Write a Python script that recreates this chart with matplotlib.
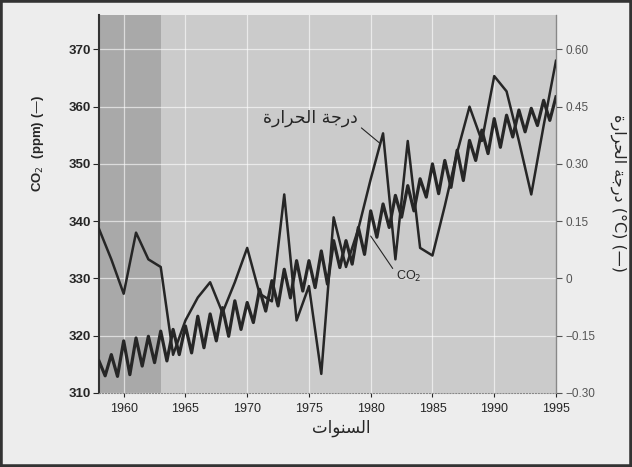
import numpy as np
import matplotlib.pyplot as plt
from matplotlib.patches import Rectangle

# CO2 seasonal curve (ppm), one peak and one trough per year, 1958.0 .. 1995.0
co2_years = np.arange(1958.0, 1995.01, 0.5)
co2_ppm = [
    315.6, 313.0,  # 1958
    316.7, 312.9,  # 1959
    319.1, 313.2,  # 1960
    319.6, 314.7,  # 1961
    319.9, 315.3,  # 1962
    320.8, 315.6,  # 1963
    321.1, 316.7,  # 1964
    321.7, 317.0,  # 1965
    323.4, 317.9,  # 1966
    323.8, 319.1,  # 1967
    324.9, 319.9,  # 1968
    326.1, 321.1,  # 1969
    325.8, 322.3,  # 1970
    328.1, 324.3,  # 1971
    329.6, 325.2,  # 1972
    331.6, 326.6,  # 1973
    333.1, 327.8,  # 1974
    333.1, 328.4,  # 1975
    334.8, 329.0,  # 1976
    336.6, 331.9,  # 1977
    336.6, 332.5,  # 1978
    338.9, 334.2,  # 1979
    341.8, 337.2,  # 1980
    343.0, 338.9,  # 1981
    344.5, 340.7,  # 1982
    346.2, 341.8,  # 1983
    347.4, 344.2,  # 1984
    350.0, 344.8,  # 1985
    350.6, 345.9,  # 1986
    352.4, 347.1,  # 1987
    354.1, 350.6,  # 1988
    355.9, 351.8,  # 1989
    357.9, 352.9,  # 1990
    358.5, 354.7,  # 1991
    359.4, 355.6,  # 1992
    359.7, 356.7,  # 1993
    361.1, 357.6,  # 1994
    361.7,         # 1995
]

# annual temperature anomaly (deg C)
temp_years = np.arange(1958, 1996)
temp_c = [0.13, 0.05, -0.04, 0.12, 0.05, 0.03, -0.20, -0.11, -0.05, -0.01,
          -0.09, -0.01, 0.08, -0.04, -0.06, 0.22, -0.11, -0.02, -0.25, 0.16,
          0.03, 0.13, 0.26, 0.38, 0.05, 0.36, 0.08, 0.06, 0.19, 0.33,
          0.45, 0.36, 0.53, 0.49, 0.36, 0.22, 0.40, 0.57]

x_ticks = [1960, 1965, 1970, 1975, 1980, 1985, 1990, 1995]
co2_ticks = [310, 320, 330, 340, 350, 360, 370]
temp_ticks = [-0.30, -0.15, 0, 0.15, 0.30, 0.45, 0.60]
temp_tick_labels = ['\u22120.30', '\u22120.15', '0', '0.15', '0.30', '0.45', '0.60']

# Arabic text in visual order (presentation forms, since matplotlib has no shaping)
temp_word = '\uFE93\uFEAD\uFE8D\uFEAE\uFEA4\uFEDF\uFE8D \uFE94\uFE9F\uFEAD\uFEA9'  # درجة الحرارة
years_word = '\uFE95\uFE8D\uFEEE\uFEE8\uFEB4\uFEDF\uFE8D'  # السنوات

plt.rcParams['font.family'] = ['Liberation Sans', 'DejaVu Sans']
ink = '#262626'

fig = plt.figure(figsize=(6.32, 4.67), dpi=100)
fig.patch.set_facecolor('#ededed')
ax = fig.add_axes([0.1566, 0.1585, 0.7231, 0.8094])
ax.set_facecolor('#cbcbcb')
ax.axvspan(1958, 1963, color='#a9a9a9', lw=0, zorder=0)

ax.set_xlim(1958, 1995)
ax.set_ylim(310, 376)
ax.grid(True, color='white', lw=0.9, alpha=0.6)
ax.set_axisbelow(True)

ax.plot(co2_years, co2_ppm, color=ink, lw=2.3, zorder=3)

ax2 = ax.twinx()
ax2.set_ylim((310 - 330) * 0.015, (376 - 330) * 0.015)
ax2.plot(temp_years, temp_c, color=ink, lw=1.8, zorder=3)

ax.set_xticks(x_ticks)
ax.set_yticks(co2_ticks)
ax2.set_yticks(temp_ticks)
ax2.set_yticklabels(temp_tick_labels)

ax.tick_params(axis='x', labelsize=9, colors=ink, length=3, pad=4)
ax.tick_params(axis='y', labelsize=9.5, colors=ink, length=4, pad=2)
for t in ax.get_yticklabels():
    t.set_fontweight('bold')
ax2.tick_params(axis='y', labelsize=8.5, colors='#555555', length=4, pad=3)

ax.spines['top'].set_visible(False)
ax2.spines['top'].set_visible(False)
ax.spines['left'].set_color('#333333')
ax.spines['left'].set_linewidth(1.5)
ax.spines['bottom'].set_color('#888888')
ax.spines['bottom'].set_linestyle(':')
ax2.spines['bottom'].set_visible(False)
ax2.spines['left'].set_visible(False)
ax2.spines['right'].set_color('#888888')
ax2.spines['right'].set_linestyle((0, (2, 1)))

ax.set_ylabel('CO$_2$  (ppm) (\u2014)', fontsize=9.5, fontweight='bold', color=ink)
ax.yaxis.set_label_coords(-0.115, 0.66)
ax.set_xlabel(years_word, fontsize=12, color=ink, family='DejaVu Sans')
ax.xaxis.set_label_coords(0.53, -0.07)
ax.text(1.135, 0.53, temp_word + ' (\u00b0C) (\u2014)', transform=ax.transAxes,
        rotation=270, ha='center', va='center', fontsize=11.5, color=ink,
        family='DejaVu Sans')

ax.annotate(temp_word, xy=(1980.8, 353.5), xytext=(1975.1, 358.1),
            ha='center', va='center', fontsize=12.5, color=ink, family='DejaVu Sans',
            arrowprops=dict(arrowstyle='-', color=ink, lw=0.8, shrinkA=1, shrinkB=0,
                            relpos=(1.0, 0.1)))
ax.annotate('CO$_2$', xy=(1980.0, 337.4), xytext=(1983.1, 330.3),
            ha='center', va='center', fontsize=9, color=ink,
            arrowprops=dict(arrowstyle='-', color=ink, lw=0.8, shrinkA=1, shrinkB=0,
                            relpos=(0.0, 0.7)))

fig.add_artist(Rectangle((0, 0), 1, 1, transform=fig.transFigure, fill=False,
                         edgecolor='#333333', lw=4))

plt.savefig('out.png', dpi=100, facecolor=fig.get_facecolor())
